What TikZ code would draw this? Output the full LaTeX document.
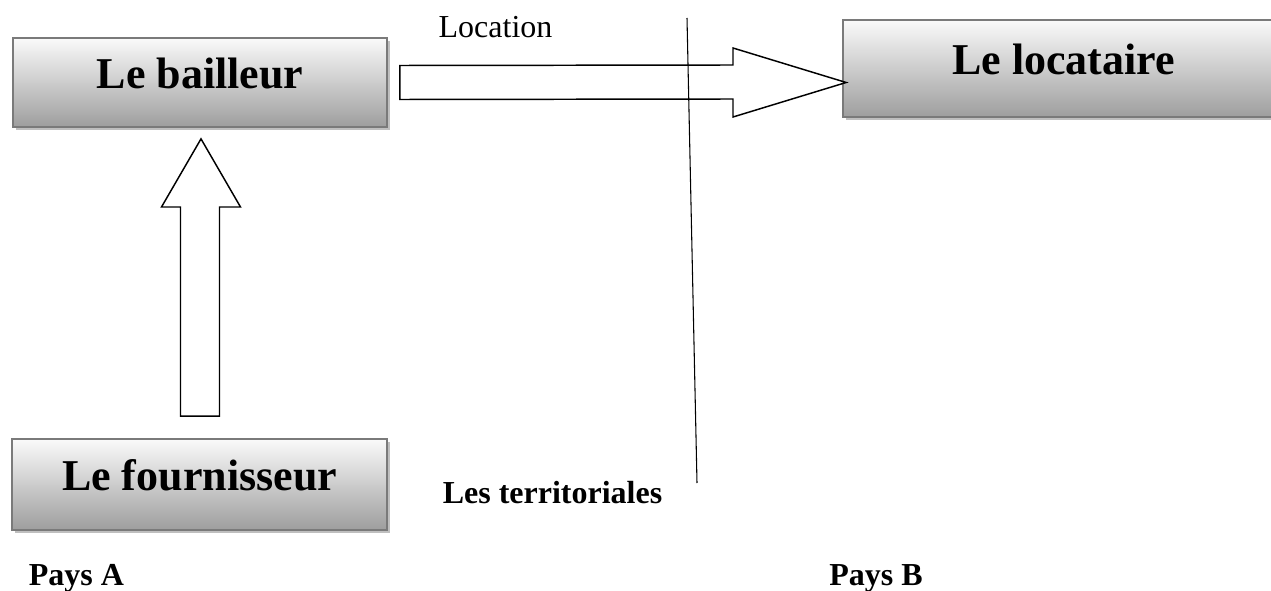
\documentclass[tikz,border=0pt]{standalone}
\usepackage{fontspec}
\setmainfont{Liberation Serif}
\usetikzlibrary{shadows,calc}

\tikzset{
  partybox/.style={
    rectangle, draw=black!52, line width=1.3pt,
    top color=black!2, bottom color=black!38,
    drop shadow={shadow xshift=2.3pt, shadow yshift=-2.3pt, fill=black!25, opacity=1},
    font=\fontsize{33}{36}\selectfont\bfseries,
    text height=20pt, text depth=11pt, inner sep=0pt
  },
  blockarrow/.style={draw=black, line width=1.1pt, fill=white, line join=miter},
  border/.style={draw=black, line width=0.8pt},
  caption/.style={font=\fontsize{24}{28}\selectfont\bfseries, anchor=base, inner sep=0pt},
  flowlabel/.style={font=\fontsize{24}{28}\selectfont, anchor=base, inner sep=0pt}
}

\begin{document}
\begin{tikzpicture}[x=0.75pt, y=0.75pt]
  \clip (0,0) rectangle (1271,590);

  % the three parties
  \node[partybox, minimum width={374*0.75pt}, minimum height={89*0.75pt}]
    (bailleur) at (200,507.5) {Le bailleur};
  \node[partybox, minimum width={441*0.75pt}, minimum height={97*0.75pt}]
    (locataire) at (1063.5,521.5) {Le locataire};
  \node[partybox, minimum width={375*0.75pt}, minimum height={91*0.75pt}]
    (fournisseur) at (199.5,105.5) {Le fournisseur};

  % supply: fournisseur -> bailleur
  \coordinate (upTip) at ($(bailleur.south)+(1,-11)$);
  \coordinate (upBase) at ($(fournisseur.north)+(1,22)$);
  \draw[blockarrow]
    ($(upBase)+(-20,0)$) -- ($(upBase |- 0,383)+(-20,0)$)
    -- ($(upBase |- 0,383)+(-39,0)$) -- (upTip)
    -- ($(upBase |- 0,383)+(40,0)$) -- ($(upBase |- 0,383)+(19,0)$)
    -- ($(upBase)+(19,0)$) -- cycle;

  % lease: bailleur -> locataire
  \coordinate (rStart) at ($(bailleur.east)+(12,0)$);
  \coordinate (rTip) at ($(locataire.west |- rStart)+(4,0)$);
  \draw[blockarrow]
    ($(rStart)+(0,17)$) -- (733,525) -- (733,542) -- (rTip)
    -- (733,473) -- (733,491) -- ($(rStart)+(0,-17)$) -- cycle;

  % border between the two countries
  \coordinate (bTop) at (687,572);
  \coordinate (bBot) at (697,107);
  \draw[border] (bTop) -- (bBot);

  % labels
  \node[flowlabel] (location) at (495.5,552) {Location};
  \node[caption] (territ) at (552.5,87) {Les territoriales};
  \node[caption] (paysA) at (76.5,5) {Pays A};
  \node[caption] (paysB) at (876,5) {Pays B};
\end{tikzpicture}
\end{document}
